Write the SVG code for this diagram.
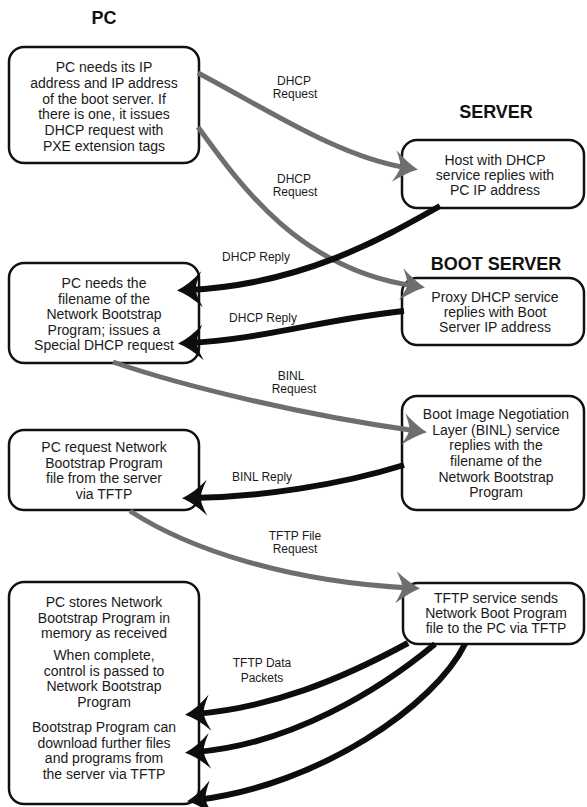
<svg xmlns="http://www.w3.org/2000/svg" width="587" height="807" viewBox="0 0 587 807">
<style>
.box{fill:#fff;stroke:#111;stroke-width:2.5}
.t{font-family:"Liberation Sans",Arial,sans-serif;font-size:14px;fill:#1a1a1a;text-anchor:middle}
.lbl{font-family:"Liberation Sans",Arial,sans-serif;font-size:12px;fill:#1a1a1a;text-anchor:middle}
.title{font-family:"Liberation Sans",Arial,sans-serif;font-size:18px;font-weight:bold;fill:#111;text-anchor:middle}
.req{fill:none;stroke:#6e6e6e;stroke-width:5;marker-end:url(#ag)}
.rep{fill:none;stroke:#0d0d0d;stroke-width:6;marker-end:url(#ab)}
</style>
<defs>
<marker id="ab" markerUnits="userSpaceOnUse" viewBox="-30 -20 40 40" markerWidth="40" markerHeight="40" refX="-10" refY="0" orient="auto" overflow="visible">
<path d="M0,0 Q-12,-5 -25,-18 Q-18,-4 -19,0 Q-18,4 -25,18 Q-12,5 0,0 Z" fill="#0d0d0d"/>
</marker>
<marker id="ag" markerUnits="userSpaceOnUse" viewBox="-30 -20 40 40" markerWidth="40" markerHeight="40" refX="-10" refY="0" orient="auto" overflow="visible">
<path d="M0,0 Q-11,-5 -24,-16 Q-17,-3 -18,0 Q-17,3 -24,16 Q-11,5 0,0 Z" fill="#6e6e6e"/>
</marker>
</defs>
<rect width="587" height="807" fill="#fff"/>

<g id="titles">
<text class="title" x="104" y="24">PC</text>
<text class="title" x="496" y="118">SERVER</text>
<text class="title" x="496" y="270">BOOT SERVER</text>
</g>

<g id="pc1">
<rect class="box" x="9" y="47" width="190" height="116" rx="15"/>
<text class="t" x="104" y="72">PC needs its IP</text>
<text class="t" x="104" y="87.8">address and IP address</text>
<text class="t" x="104" y="103.6">of the boot server. If</text>
<text class="t" x="104" y="119.4">there is one, it issues</text>
<text class="t" x="104" y="135.2">DHCP request with</text>
<text class="t" x="104" y="151">PXE extension tags</text>
</g>

<g id="pc2">
<rect class="box" x="9" y="263" width="190" height="100" rx="15"/>
<text class="t" x="104" y="288">PC needs the</text>
<text class="t" x="104" y="303.5">filename of the</text>
<text class="t" x="104" y="319">Network Bootstrap</text>
<text class="t" x="104" y="334.5">Program; issues a</text>
<text class="t" x="104" y="350">Special DHCP request</text>
</g>

<g id="pc3">
<rect class="box" x="9" y="430" width="190" height="80" rx="15"/>
<text class="t" x="104" y="452">PC request Network</text>
<text class="t" x="104" y="467.5">Bootstrap Program</text>
<text class="t" x="104" y="483">file from the server</text>
<text class="t" x="104" y="499">via TFTP</text>
</g>

<g id="pc4">
<rect class="box" x="9" y="582" width="190" height="222" rx="15"/>
<text class="t" x="104" y="607">PC stores Network</text>
<text class="t" x="104" y="622.5">Bootstrap Program in</text>
<text class="t" x="104" y="638">memory as received</text>
<text class="t" x="104" y="660">When complete,</text>
<text class="t" x="104" y="675.5">control is passed to</text>
<text class="t" x="104" y="691">Network Bootstrap</text>
<text class="t" x="104" y="706.5">Program</text>
<text class="t" x="104" y="732">Bootstrap Program can</text>
<text class="t" x="104" y="747.5">download further files</text>
<text class="t" x="104" y="763">and programs from</text>
<text class="t" x="104" y="778.5">the server via TFTP</text>
</g>

<g id="server">
<rect class="box" x="402" y="140" width="182" height="68" rx="15"/>
<text class="t" x="495" y="165">Host with DHCP</text>
<text class="t" x="495" y="180">service replies with</text>
<text class="t" x="495" y="195">PC IP address</text>
</g>

<g id="bootserver">
<rect class="box" x="402" y="278" width="182" height="67" rx="15"/>
<text class="t" x="495" y="302">Proxy DHCP service</text>
<text class="t" x="495" y="317">replies with Boot</text>
<text class="t" x="495" y="332">Server IP address</text>
</g>

<g id="binl">
<rect class="box" x="402" y="396" width="182" height="114" rx="15"/>
<text class="t" x="496" y="419">Boot Image Negotiation</text>
<text class="t" x="496" y="434.5">Layer (BINL) service</text>
<text class="t" x="496" y="450">replies with the</text>
<text class="t" x="496" y="466">filename of the</text>
<text class="t" x="496" y="481.5">Network Bootstrap</text>
<text class="t" x="496" y="497">Program</text>
</g>

<g id="tftp">
<rect class="box" x="403" y="583" width="181" height="61" rx="15"/>
<text class="t" x="496" y="603">TFTP service sends</text>
<text class="t" x="496" y="618">Network Boot Program</text>
<text class="t" x="496" y="633">file to the PC via TFTP</text>
</g>

<g id="connectors">
<path class="req" d="M198,73 C265,108 340,158 408,168"/>
<path class="req" d="M198,127 C240,185 300,270 415,286"/>
<path class="rep" d="M440,206 C380,240 300,285 187,290"/>
<path class="rep" d="M404,311 C330,318 260,340 188,343"/>
<path class="req" d="M113,362 C180,385 300,415 417,431"/>
<path class="rep" d="M404,465 C340,485 260,497 192,498"/>
<path class="req" d="M130,511 C190,550 290,582 410,588"/>
<path class="rep" d="M408,643 C340,680 270,708 195,714"/>
<path class="rep" d="M435,644 C380,690 290,745 195,752"/>
<path class="rep" d="M465,644 C435,705 320,785 197,800"/>
</g>

<g id="labels">
<text class="lbl" x="294" y="85">DHCP</text>
<text class="lbl" x="295" y="98">Request</text>
<text class="lbl" x="294" y="183">DHCP</text>
<text class="lbl" x="295" y="196">Request</text>
<text class="lbl" x="256" y="261">DHCP Reply</text>
<text class="lbl" x="263" y="322">DHCP Reply</text>
<text class="lbl" x="291" y="380">BINL</text>
<text class="lbl" x="294" y="393">Request</text>
<text class="lbl" x="262" y="481">BINL Reply</text>
<text class="lbl" x="295" y="540">TFTP File</text>
<text class="lbl" x="295" y="553">Request</text>
<text class="lbl" x="262" y="667">TFTP Data</text>
<text class="lbl" x="262" y="682">Packets</text>
</g>
</svg>
